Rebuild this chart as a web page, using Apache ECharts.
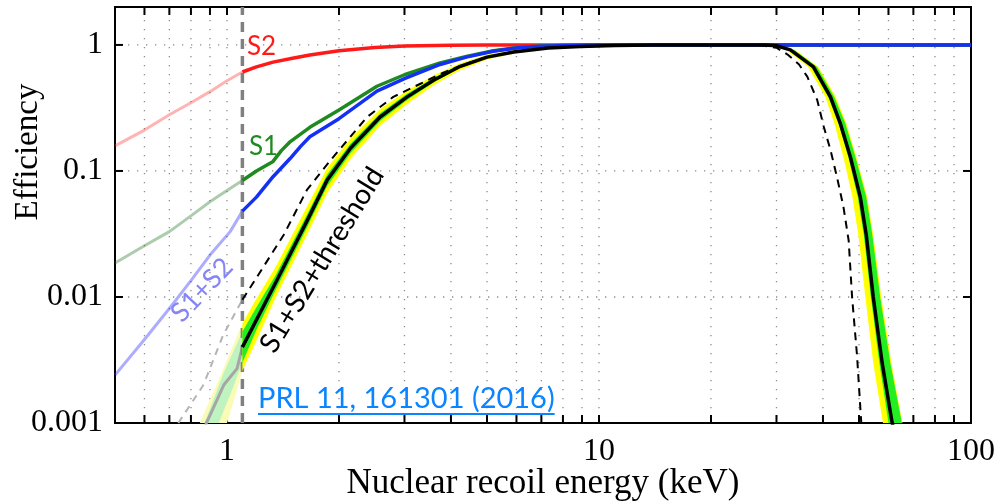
<!DOCTYPE html>
<html><head><meta charset="utf-8">
<script src="https://cdn.jsdelivr.net/npm/echarts/dist/echarts.min.js"></script>
<style>html,body{margin:0;padding:0;background:#fff}#c{width:999px;height:503px}</style>
</head><body><div id="c"></div>
<script>
// ---- axis ticks / grid values ----
const xGridValues = [0.6,0.7,0.8,0.9,1,2,3,4,5,6,7,8,9,10,20,30,40,50,60,70,80,90];
const yGridValues = [0.01, 0.1, 1];
const xLabelValues = [1, 10, 100];
const xLabelTexts = ['1', '10', '100'];
const yLabelValues = [0.001, 0.01, 0.1, 1];
const yLabelTexts = ['0.001', '0.01', '0.1', '1'];

// ---- efficiency curves [energy keV, efficiency] ----
const s2Faded = [[0.5,0.158],[0.6,0.211],[0.7,0.279],[0.8,0.348],[0.9,0.426],[1.0,0.52],[1.1,0.61]];
const s2 = [[1.1,0.61],[1.2,0.67],[1.33,0.73],[1.5,0.785],[1.67,0.833],[2.0,0.9],[2.5,0.955],[3.0,0.98],[4.0,0.995],[5.0,1.0],[100,1.0]];
const s1Faded = [[0.5,0.0186],[0.6,0.0255],[0.7,0.033],[0.8,0.044],[0.9,0.057],[1.0,0.07],[1.1,0.084]];
const s1 = [[1.1,0.084],[1.2,0.1],[1.33,0.119],[1.4,0.145],[1.48,0.171],[1.67,0.222],[2.0,0.305],[2.53,0.47],[3.0,0.58],[3.74,0.72],[4.4,0.81],[5.2,0.9],[6.0,0.95],[7.0,0.98],[8.0,0.99],[10,1.0],[100,1.0]];
const s12Faded = [[0.5,0.0024],[0.6,0.0046],[0.7,0.0081],[0.8,0.0135],[0.9,0.0215],[1.02,0.033],[1.1,0.048]];
const s12 = [[1.1,0.048],[1.2,0.062],[1.33,0.09],[1.48,0.126],[1.575,0.156],[1.67,0.187],[2.0,0.26],[2.53,0.43],[3.0,0.54],[3.74,0.70],[4.4,0.80],[5.2,0.89],[6.0,0.945],[7.0,0.975],[8.0,0.99],[10,1.0],[100,1.0]];
const thrFaded = [[0.86,0.0008],[0.88,0.001],[0.9,0.00115],[0.98,0.002],[1.064,0.0027],[1.1,0.004]];
const thr = [[1.1,0.004],[1.35,0.0129],[1.64,0.040],[1.86,0.085],[2.15,0.152],[2.58,0.268],[3.05,0.387],[3.6,0.527],[4.2,0.669],[5.0,0.80],[5.9,0.88],[7.3,0.947],[8.9,0.973],[11,0.99],[14,1.0],[28,1.0],[30,0.985],[32.7,0.913],[37.7,0.669],[41.9,0.387],[44.5,0.24],[47.4,0.129],[50.4,0.062],[52.3,0.031],[54.6,0.010],[57.7,0.003],[61.4,0.001],[62.5,0.0008]];
const dashFaded = [[0.72,0.0008],[0.74,0.001],[0.864,0.002],[0.977,0.005],[1.1,0.0095]];
const dash = [[1.1,0.0095],[1.2,0.0142],[1.42,0.031],[1.64,0.0707],[1.9,0.122],[2.38,0.268],[2.8,0.387],[3.3,0.49],[3.8,0.6],[4.4,0.71],[5.0,0.80],[5.9,0.88],[7.3,0.947],[8.9,0.973],[11,0.99],[14,1.0],[27,1.0],[30,0.95],[32.3,0.83],[34.5,0.7],[36.3,0.56],[38.6,0.366],[40.2,0.224],[41.9,0.147],[43.6,0.09],[45.4,0.052],[46.9,0.028],[47.9,0.010],[49.4,0.0034],[50.6,0.0011],[51,0.0008]];
const thresholdLine = [[1.1,0.001],[1.1,2]];

// ---- uncertainty bands (lower edge / upper edge) ----
const yellowLoFaded = [[0.98,0.0008],[1.0,0.001],[1.05,0.0016],[1.1,0.0026]];
const yellowHiFaded = [[0.83,0.0008],[0.845,0.001],[0.95,0.0022],[1.1,0.0062]];
const greenLoFaded = [[0.93,0.0008],[0.95,0.001],[1.03,0.0018],[1.1,0.0030]];
const greenHiFaded = [[0.86,0.0008],[0.87,0.001],[0.98,0.0025],[1.1,0.0053]];
const yellowLo = [[1.1,0.0026],[1.2,0.0045],[1.35,0.0098],[1.64,0.031],[1.86,0.067],[2.15,0.125],[2.58,0.228],[3.05,0.34],[3.6,0.48],[4.2,0.625],[5,0.765],[5.9,0.85],[7.3,0.928],[8.9,0.96],[11,0.985],[14,0.998],[28,0.995],[29,0.985],[31.9,0.913],[36.5,0.669],[40.6,0.387],[42.9,0.24],[45.4,0.129],[48.0,0.062],[49.8,0.031],[52.0,0.010],[54.6,0.003],[58.0,0.001],[59,0.0008]];
const yellowHi = [[1.1,0.0062],[1.2,0.0097],[1.35,0.0172],[1.64,0.052],[1.86,0.106],[2.15,0.182],[2.58,0.31],[3.05,0.435],[3.6,0.575],[4.2,0.71],[5,0.835],[5.9,0.905],[7.3,0.962],[8.9,0.983],[11,0.995],[14,1.0],[28,1.0],[33.7,0.913],[38.9,0.669],[43.3,0.387],[46.2,0.24],[49.2,0.129],[52.6,0.062],[54.6,0.031],[57.4,0.010],[61.1,0.003],[65.4,0.001],[66.5,0.0008]];
const greenLo = [[1.1,0.0030],[1.2,0.0055],[1.35,0.0113],[1.64,0.0355],[1.86,0.076],[2.15,0.139],[2.58,0.249],[3.05,0.366],[3.6,0.505],[4.2,0.65],[5,0.785],[5.9,0.868],[7.3,0.94],[8.9,0.968],[11,0.988],[14,0.999],[28,0.998],[29.5,0.99],[32.3,0.913],[37.2,0.669],[41.3,0.387],[44.0,0.24],[46.8,0.129],[49.6,0.062],[51.5,0.031],[53.8,0.010],[56.7,0.003],[60.0,0.001],[61,0.0008]];
const greenHi = [[1.1,0.0053],[1.2,0.0083],[1.35,0.0148],[1.64,0.045],[1.86,0.094],[2.15,0.165],[2.58,0.287],[3.05,0.41],[3.6,0.55],[4.2,0.69],[5,0.815],[5.9,0.892],[7.3,0.955],[8.9,0.978],[11,0.993],[14,1.0],[28,1.0],[33.5,0.913],[38.6,0.669],[42.9,0.387],[45.9,0.24],[48.9,0.129],[52.3,0.062],[54.3,0.031],[57.0,0.010],[60.7,0.003],[65.2,0.001],[66,0.0008]];

const chart = echarts.init(document.getElementById('c'), null, {renderer: 'canvas'});

function band(lo, hi, color, z) {
  return {
    type: 'custom', coordinateSystem: 'cartesian2d', clip: true, silent: true, z: z,
    data: [[1, 1]], encode: {x: 0, y: 1},
    renderItem: function (params, api) {
      const pts = lo.concat(hi.slice().reverse()).map(p => api.coord(p));
      return {type: 'polygon', shape: {points: pts}, style: {fill: color, stroke: null}};
    }
  };
}
function line(data, color, width, z, dashType) {
  return {
    type: 'line', data: data, z: z, showSymbol: false, symbol: 'none', silent: true, clip: true,
    lineStyle: {color: color, width: width, type: dashType || 'solid', cap: 'butt', join: 'round'}
  };
}

const tickFont = '32px "Liberation Serif", serif';
const gridSeries = {
  type: 'custom', coordinateSystem: 'cartesian2d', silent: true, z: 1, clip: false,
  data: [[1, 1]], encode: {x: 0, y: 1},
  renderItem: function (params, api) {
    const cs = params.coordSys;
    const top = cs.y, bottom = cs.y + cs.height, left = cs.x, right = cs.x + cs.width;
    const ch = [];
    const dot = {stroke: '#8c8c8c', lineWidth: 1.3, lineDash: [1.3, 7.7]};
    const tk = {stroke: '#000', lineWidth: 2};
    xGridValues.forEach(v => {
      const x = api.coord([v, 1])[0];
      ch.push({type: 'line', shape: {x1: x, y1: top + 4, x2: x, y2: bottom}, style: dot});
      ch.push({type: 'line', shape: {x1: x, y1: bottom, x2: x, y2: bottom - 8}, style: tk});
      ch.push({type: 'line', shape: {x1: x, y1: top, x2: x, y2: top + 8}, style: tk});
    });
    yGridValues.forEach(v => {
      const y = api.coord([1, v])[1];
      ch.push({type: 'line', shape: {x1: left + 4, y1: y, x2: right, y2: y}, style: dot});
      ch.push({type: 'line', shape: {x1: left, y1: y, x2: left + 8, y2: y}, style: tk});
      ch.push({type: 'line', shape: {x1: right, y1: y, x2: right - 8, y2: y}, style: tk});
    });
    xLabelValues.forEach((v, i) => {
      const x = api.coord([v, 1])[0];
      ch.push({type: 'text', x: x, y: bottom + 13, style: {text: xLabelTexts[i], font: tickFont, fill: '#000', textAlign: 'center', textVerticalAlign: 'top'}});
    });
    yLabelValues.forEach((v, i) => {
      const y = api.coord([1, v])[1];
      ch.push({type: 'text', x: left - 12, y: y, style: {text: yLabelTexts[i], font: tickFont, fill: '#000', textAlign: 'right', textVerticalAlign: 'middle'}});
    });
    return {type: 'group', children: ch};
  }
};

const prlText = 'PRL 11, 161301 (2016)';
const meas = document.createElement('canvas').getContext('2d');
meas.font = '29px Lato';
const prlW = meas.measureText(prlText).width;

const option = {
  animation: false,
  backgroundColor: '#fff',
  grid: {left: 115, right: 28, top: 7, bottom: 80, show: true, borderColor: '#000', borderWidth: 2, backgroundColor: 'transparent'},
  xAxis: {
    type: 'log', logBase: 10, min: 0.5, max: 100,
    axisLine: {show: false}, axisTick: {show: false}, splitLine: {show: false}, axisLabel: {show: false}
  },
  yAxis: {
    type: 'log', logBase: 10, min: 0.001, max: 2,
    axisLine: {show: false}, axisTick: {show: false}, splitLine: {show: false}, axisLabel: {show: false}
  },
  graphic: [
    {type: 'text', x: 28, y: 152, rotation: Math.PI / 2,
      style: {text: 'Efficiency', font: '33px "Liberation Serif", serif', fill: '#000', textAlign: 'center', textVerticalAlign: 'middle'}},
    {type: 'text', x: 543, y: 484,
      style: {text: 'Nuclear recoil energy (keV)', font: '35px "Liberation Serif", serif', fill: '#000', textAlign: 'center', textVerticalAlign: 'middle'}},
    {type: 'text', x: 247, y: 47, z: 20,
      style: {text: 'S2', font: '26px Lato', fill: '#ff1a1a', textAlign: 'left', textVerticalAlign: 'middle'}},
    {type: 'text', x: 249, y: 147, z: 20,
      style: {text: 'S1', font: '26px Lato', fill: '#1f8a1f', textAlign: 'left', textVerticalAlign: 'middle'}},
    {type: 'text', x: 202, y: 290, rotation: 46.5 * Math.PI / 180, z: 20,
      style: {text: 'S1+S2', font: '27px Lato', fill: '#8585f5', textAlign: 'center', textVerticalAlign: 'middle'}},
    {type: 'text', x: 322, y: 260, rotation: 58.5 * Math.PI / 180, z: 20,
      style: {text: 'S1+S2+threshold', font: '28px Lato', fill: '#000', textAlign: 'center', textVerticalAlign: 'middle'}},
    {type: 'text', x: 258, y: 399, z: 20,
      style: {text: prlText, font: '29px Lato', fill: '#0a84ff', textAlign: 'left', textVerticalAlign: 'middle'}},
    {type: 'line', z: 20, shape: {x1: 258, y1: 414, x2: 258 + prlW, y2: 414}, style: {stroke: '#0a84ff', lineWidth: 2}}
  ],
  series: [
    gridSeries,
    line(s2Faded, 'rgba(255,40,40,0.35)', 3, 2),
    line(s1Faded, 'rgba(40,120,40,0.38)', 3, 2),
    line(s12Faded, 'rgba(40,40,255,0.38)', 3, 2),
    band(yellowLoFaded, yellowHiFaded, '#fbfbb8', 2),
    band(greenLoFaded, greenHiFaded, '#bff3bf', 2),
    line(thrFaded, '#a6a6a6', 3, 3),
    line(dashFaded, '#b4b4b4', 2, 3, [7, 6]),
    line(thresholdLine, '#808080', 3.5, 4, [10, 7]),
    line(s2, '#ff1a1a', 3.5, 5),
    line(s1, '#1f8a1f', 3.5, 5),
    line(s12, '#1530f5', 3.5, 5),
    band(yellowLo, yellowHi, '#ffff00', 6),
    band(greenLo, greenHi, '#22ee22', 6),
    line(dash, '#000', 2, 7, [8, 6]),
    line(thr, '#000', 3.5, 8)
  ]
};
chart.setOption(option);
</script></body></html>
